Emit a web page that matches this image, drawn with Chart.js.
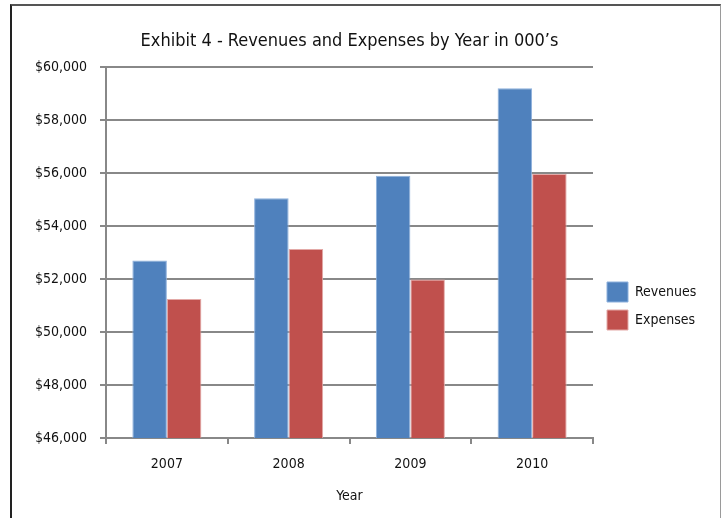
<!DOCTYPE html>
<html>
<head>
<meta charset="utf-8">
<script src="https://cdn.jsdelivr.net/npm/chart.js@4.4.1/dist/chart.umd.min.js"></script>
<style>
  html, body { margin: 0; padding: 0; background: #ffffff; }
  #wrap { position: relative; width: 721px; height: 518px; overflow: hidden; }
  #frame { position: absolute; left: 10px; top: 4px; width: 708px; height: 600px;
           border-top: 2px solid #555555; border-left: 2px solid #222222; border-right: 1px solid #9a9a9a; }
  canvas { position: absolute; left: 0; top: 0; }
</style>
</head>
<body>
<div id="wrap">
  <div id="frame"></div>
  <canvas id="c" width="721" height="518"></canvas>
</div>
<script>
const chartTitle = 'Exhibit 4 - Revenues and Expenses by Year in 000\u2019s';
const xAxisTitle = 'Year';
const years = ['2007', '2008', '2009', '2010'];
const revenues = [52700, 55050, 55900, 59200];
const expenses = [51250, 53130, 51980, 55960];
const yMin = 46000;
const yMax = 60000;
const yStep = 2000;

const FONT = '"DejaVu Sans Condensed", "DejaVu Sans", sans-serif';

const legendPlacer = {
  id: 'legendPlacer',
  afterLayout(chart) {
    const l = chart.legend;
    if (!l) return;
    const w = l.width, h = l.height;
    l.left = 599; l.right = 599 + w;
    l.top = 274; l.bottom = 274 + h;
  }
};

new Chart(document.getElementById('c'), {
  type: 'bar',
  data: {
    labels: years,
    datasets: [
      { label: 'Revenues', data: revenues, backgroundColor: '#4F81BD', borderColor: '#8DB0DC', borderWidth: 1 },
      { label: 'Expenses', data: expenses, backgroundColor: '#C0504D', borderColor: '#E3A9A7', borderWidth: 1 }
    ]
  },
  plugins: [legendPlacer],
  options: {
    responsive: false,
    animation: false,
    devicePixelRatio: 1,
    layout: { padding: { left: 0, right: 28, top: 0, bottom: 0 } },
    datasets: { bar: { categoryPercentage: 0.567, barPercentage: 1.0 } },
    plugins: {
      tooltip: { enabled: false },
      title: {
        display: true,
        text: chartTitle,
        fullSize: false,
        color: '#111111',
        font: { family: FONT, size: 18, weight: 'normal', lineHeight: 1.2 },
        padding: { top: 31, bottom: 14.4 }
      },
      legend: {
        display: true,
        position: 'right',
        align: 'start',
        maxWidth: 100,
        labels: {
          boxWidth: 21,
          boxHeight: 20,
          padding: 8,
          color: '#111111',
          font: { family: FONT, size: 14 }
        }
      }
    },
    scales: {
      x: {
        grid: { display: true, drawOnChartArea: false, drawTicks: true, tickLength: 6, color: '#888888', lineWidth: 2 },
        border: { display: true, color: '#888888', width: 2 },
        ticks: { color: '#111111', padding: 12, font: { family: FONT, size: 14 } },
        title: { display: true, text: xAxisTitle, color: '#111111', padding: { top: 4, bottom: 13 },
                 font: { family: FONT, size: 14 } },
        afterFit(scale) { scale.height = 80; }
      },
      y: {
        min: yMin,
        max: yMax,
        grid: { color: '#888888', lineWidth: 2, drawTicks: true, tickLength: 6 },
        border: { display: true, color: '#888888', width: 2 },
        ticks: {
          stepSize: yStep,
          padding: 13,
          color: '#111111',
          font: { family: FONT, size: 14 },
          callback: (v) => '$' + Number(v).toLocaleString('en-US')
        },
        afterFit(scale) { scale.width = 106; }
      }
    }
  }
});
</script>
</body>
</html>
